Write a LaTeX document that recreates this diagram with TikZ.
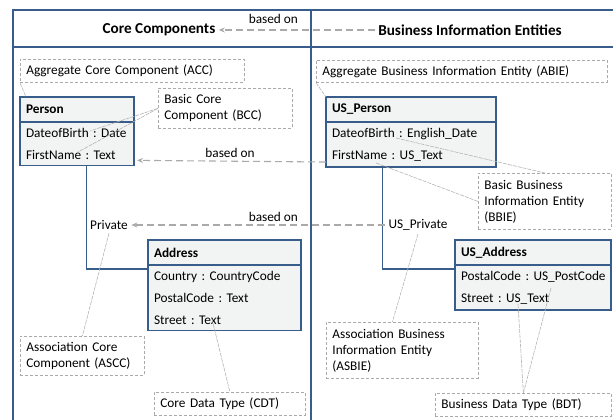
\documentclass[tikz,border=0pt]{standalone}
\usepackage{fontspec}
\setmainfont{Carlito}
\usetikzlibrary{positioning, calc, arrows.meta}
\frenchspacing

\definecolor{frameblue}{RGB}{56,93,138}
\definecolor{clsfill}{RGB}{242,243,243}
\definecolor{notegray}{RGB}{170,170,170}
\definecolor{leadgray}{RGB}{180,180,180}

\begin{document}
\begin{tikzpicture}[x=1pt, y=-1pt, font=\fontsize{13.3}{16}\selectfont,
  frame/.style={draw=frameblue, line width=1.5pt},
  title/.style={font=\fontsize{15.2}{18}\selectfont\bfseries},
  clshead/.style={draw=frameblue, fill=clsfill, line width=1.5pt, outer sep=0pt, anchor=north west, font=\fontsize{13.3}{16}\selectfont\bfseries, text width=#1, align=left, inner xsep=6pt, inner ysep=0pt, minimum height=25pt},
  clsbody/.style={draw=frameblue, fill=clsfill, line width=1.5pt, outer sep=0pt, font=\fontsize{13.3}{22}\selectfont, text width=#1, align=left, inner xsep=6pt, inner ysep=6pt},
  note/.style={draw=notegray, dash pattern=on 3pt off 2pt, fill=white, line width=0.8pt, anchor=north west, text width=#1, align=left, inner xsep=6pt, inner ysep=3pt},
  leader/.style={draw=leadgray, line width=0.6pt, dash pattern=on 4pt off 1pt},
  basedon/.style={draw=notegray, line width=1.1pt, dash pattern=on 7pt off 4pt, -{Stealth[length=6pt, width=5pt]}},
  assoc/.style={draw=frameblue, line width=1.5pt}
]
	\useasboundingbox (0,0) rectangle (616,420);
	
	% frame of the two columns
	\draw[frame] (13,420) -- (13,10) -- (613,10);
	\draw[frame] (13,47) -- (613,47);
	\draw[frame] (311,10) -- (311,420);
	
	\node[title] (CC)  at (159,30) {Core Components};
	\node[title] (BIE) at (470,30) {Business Information Entities};
	
	% core components
	\node[clshead=102pt] (P) at (20,97) {Person};
	\node[clsbody=102pt, below=0pt of P] (PA) {DateofBirth~:~Date\\FirstName~:~Text};
	\node[clshead=141pt] (A) at (148,240) {Address};
	\node[clsbody=141pt, below=0pt of A] (AA) {Country~:~CountryCode\\PostalCode~:~Text\\Street~:~Text};
	\node (priv) at (109,225) {Private};
	
	% business information entities
	\node[clshead=158pt] (UP) at (326,97) {US\_Person};
	\node[clsbody=158pt, below=0pt of UP] (UPA) {DateofBirth~:~English\_Date\\FirstName~:~US\_Text};
	\node[clshead=144pt] (UA) at (455,240) {US\_Address};
	\node[clsbody=144pt, below=0pt of UA] (UAA) {PostalCode~:~US\_PostCode\\Street~:~US\_Text};
	\node (uspriv) at (418,225) {US\_Private};
	
	% associations
	\draw[assoc] ([xshift=9.5pt]PA.south) |- ([yshift=-4pt]AA.north west);
	\draw[assoc] ([xshift=-28.5pt]UPA.south) |- ([yshift=-4pt]UAA.north west);
	
	% based on
	\draw[basedon] (BIE) -- (CC) node[pos=0.65, above=3pt, text=black] {based on};
	\draw[basedon, shorten >=3pt] ([yshift=5pt]UPA.south west) -- ([yshift=5pt]PA.south east) node[pos=0.5, above, text=black] {based on};
	\draw[basedon] (uspriv) -- (priv) node[pos=0.44, above, text=black] {based on};
	
	% notes
	\node[note=212pt, minimum height=23pt] (acc)   at (20,59)   {Aggregate Core Component (ACC)};
	\node[note=122pt, minimum height=40pt] (bcc)   at (158,88)  {Basic Core\\Component (BCC)};
	\node[note=112pt, minimum height=39pt] (ascc)  at (20,336)  {Association Core\\Component (ASCC)};
	\node[note=139pt, minimum height=23pt] (cdt)   at (154,392) {Core Data Type (CDT)};
	\node[note=279pt, minimum height=22pt] (abie)  at (316,60)  {Aggregate Business Information Entity (ABIE)};
	\node[note=121pt, minimum height=56pt] (bbie)  at (478,173) {Basic Business\\Information Entity\\(BBIE)};
	\node[note=140pt, minimum height=56pt] (asbie) at (326,322) {Association Business\\Information Entity\\(ASBIE)};
	\node[note=164pt, minimum height=23pt] (bdt)   at (435,393) {Business Data Type (BDT)};
	
	% leaders from notes
	\draw[leader] (acc.south west) -- ([xshift=6pt]P.north west);
	\draw[leader] (bcc.west) -- ($(PA.north west)+(70,9)$);
	\draw[leader] (bcc.west) -- ($(PA.north west)+(58,30)$);
	\draw[leader] (priv.south) -- (ascc.north);
	\draw[leader] ($(AA.north west)+(64,54)$) -- (cdt.north);
	\draw[leader] (abie.south west) -- (UP.north west);
	\draw[leader] ($(UPA.north west)+(70,16)$) -- (bbie.north);
	\draw[leader] ($(UPA.north west)+(50,41)$) -- (bbie.west);
	\draw[leader] (uspriv.south) -- ([xshift=-10pt]asbie.north);
	\draw[leader] ($(UAA.north west)+(63,39)$) -- (bdt.north);
	\draw[leader] ($(UAA.north west)+(96,23)$) -- (bdt.north);
\end{tikzpicture}
\end{document}
